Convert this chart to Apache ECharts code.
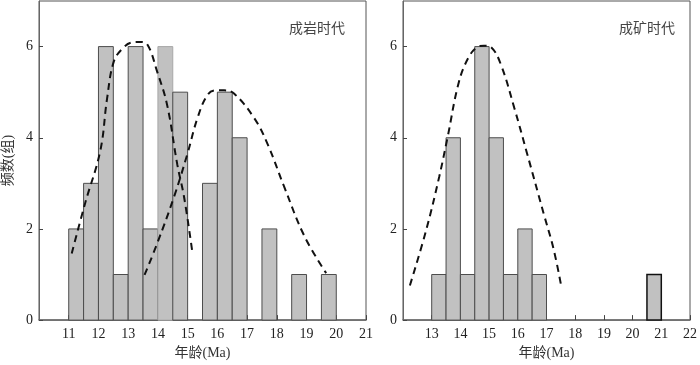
<!DOCTYPE html>
<html>
<head>
<meta charset="utf-8">
<script src="https://cdn.jsdelivr.net/npm/echarts@6/dist/echarts.min.js"></script>
<style>
  html, body { margin: 0; padding: 0; background: #fff; }
  #chart { width: 700px; height: 365px; }
</style>
</head>
<body>
<div id="chart"></div>
<script>
// 直方图数据：每个柱子的起点(Ma)和频数，柱宽 0.5 Ma
const binWidth = 0.5
const rockBinStart = [11, 11.5, 12, 12.5, 13, 13.5, 14, 14.5, 15.5, 16, 16.5, 17.5, 18.5, 19.5]
const rockCounts = [2, 3, 6, 1, 6, 2, 6, 5, 3, 5, 4, 2, 1, 1]
const oreBinStart = [13, 13.5, 14, 14.5, 15, 15.5, 16, 16.5, 20.5]
const oreCounts = [1, 4, 1, 6, 4, 1, 2, 1, 1]

// 拟合曲线（虚线）
const rockCurve1X = [11.1, 11.55, 12.06, 12.29, 12.51, 12.8, 13.13, 13.4, 13.64, 13.98, 14.31, 14.65, 14.88, 15.16]
const rockCurve1Y = [1.46, 2.56, 3.71, 4.86, 5.66, 5.95, 6.09, 6.1, 6.05, 5.44, 4.72, 3.42, 2.7, 1.48]
const rockCurve2X = [13.55, 13.98, 14.54, 14.99, 15.33, 15.67, 15.95, 16.23, 16.56, 17.24, 17.69, 18.25, 18.93, 19.66]
const rockCurve2Y = [0.99, 1.69, 2.7, 3.64, 4.43, 4.94, 5.04, 5.04, 4.97, 4.43, 3.86, 2.92, 1.84, 1.03]
const oreCurveX = [12.24, 12.81, 13.26, 13.55, 13.95, 14.29, 14.57, 14.82, 15.08, 15.42, 15.88, 16.33, 16.9, 17.25, 17.53]
const oreCurveY = [0.76, 1.98, 3.14, 4.0, 5.23, 5.77, 5.98, 6.02, 5.98, 5.59, 4.65, 3.64, 2.34, 1.55, 0.69]

const yTicks = [0, 2, 4, 6]

const serif = "'Liberation Serif', 'Noto Sans CJK SC', serif"
const cjk = "'Noto Sans CJK SC', sans-serif"

const zip = (xs, ys) => xs.map((x, i) => [x, ys[i]])
const bins = (starts, counts) => starts.map((s, i) => [s, s + binWidth, counts[i]])

// 原图中个别柱子描边颜色不同
const barStroke = { rock: { 14: '#a8a8a8' }, ore: { 20.5: '#111' } }

const makeRenderBar = key => (params, api) => {
  const start = api.value(0)
  const lo = api.coord([start, 0])
  const hi = api.coord([api.value(1), api.value(2)])
  const stroke = barStroke[key][start] || '#4d4d4d'
  return {
    type: 'rect',
    shape: { x: lo[0], y: hi[1], width: hi[0] - lo[0], height: lo[1] - hi[1] },
    style: { fill: '#c1c1c1', stroke, lineWidth: stroke === '#111' ? 1.5 : 1 }
  }
}

const xAxisBase = (min, max, gridIndex) => ({
  type: 'value',
  gridIndex,
  min,
  max,
  interval: 1,
  name: '年龄(Ma)',
  nameLocation: 'middle',
  nameGap: 23,
  nameTextStyle: { fontFamily: serif, fontSize: 14, color: '#333' },
  axisLine: { show: true, onZero: false, lineStyle: { color: '#666', width: 1.5 } },
  axisTick: { show: true, inside: true, length: 5, lineStyle: { color: '#444' } },
  axisLabel: { showMinLabel: false, margin: 7, fontFamily: serif, fontSize: 14, color: '#222' },
  splitLine: { show: false }
})

const yAxisBase = (gridIndex, withName) => ({
  type: 'value',
  gridIndex,
  min: 0,
  max: 7,
  interval: 2,
  name: withName ? '频数(组)' : '',
  nameLocation: 'middle',
  nameGap: 24,
  nameTextStyle: { fontFamily: serif, fontSize: 14, color: '#333' },
  axisLine: { show: true, lineStyle: { color: '#666' } },
  axisTick: { show: true, inside: true, length: 4, lineStyle: { color: '#444' } },
  axisLabel: {
    showMaxLabel: false,
    margin: 6,
    fontFamily: serif,
    fontSize: 14,
    color: '#222',
    formatter: v => (yTicks.includes(v) ? String(v) : '')
  },
  splitLine: { show: false }
})

const dashed = { color: '#111', width: 2, type: [7, 5] }

const chart = echarts.init(document.getElementById('chart'), null, { renderer: 'canvas' })
chart.setOption({
  animation: false,
  backgroundColor: '#fff',
  grid: [
    { left: 39, top: 1, width: 327, height: 324, show: true, borderColor: '#555', borderWidth: 1 },
    { left: 403, top: 1, width: 295, height: 324, show: true, borderColor: '#555', borderWidth: 1 }
  ],
  title: [
    { text: '成岩时代', left: 284, top: 16, textStyle: { fontFamily: cjk, fontSize: 14, fontWeight: 'normal', color: '#444' } },
    { text: '成矿时代', left: 614, top: 16, textStyle: { fontFamily: cjk, fontSize: 14, fontWeight: 'normal', color: '#444' } }
  ],
  xAxis: [xAxisBase(10, 21, 0), xAxisBase(12, 22, 1)],
  yAxis: [yAxisBase(0, true), yAxisBase(1, false)],
  series: [
    {
      type: 'custom',
      xAxisIndex: 0,
      yAxisIndex: 0,
      renderItem: makeRenderBar('rock'),
      encode: { x: [0, 1], y: 2 },
      data: bins(rockBinStart, rockCounts)
    },
    {
      type: 'custom',
      xAxisIndex: 1,
      yAxisIndex: 1,
      renderItem: makeRenderBar('ore'),
      encode: { x: [0, 1], y: 2 },
      data: bins(oreBinStart, oreCounts)
    },
    {
      type: 'line',
      xAxisIndex: 0,
      yAxisIndex: 0,
      smooth: 0.4,
      showSymbol: false,
      lineStyle: dashed,
      data: zip(rockCurve1X, rockCurve1Y)
    },
    {
      type: 'line',
      xAxisIndex: 0,
      yAxisIndex: 0,
      smooth: 0.4,
      showSymbol: false,
      lineStyle: dashed,
      data: zip(rockCurve2X, rockCurve2Y)
    },
    {
      type: 'line',
      xAxisIndex: 1,
      yAxisIndex: 1,
      smooth: 0.4,
      showSymbol: false,
      lineStyle: dashed,
      data: zip(oreCurveX, oreCurveY)
    }
  ]
})
</script>
</body>
</html>
